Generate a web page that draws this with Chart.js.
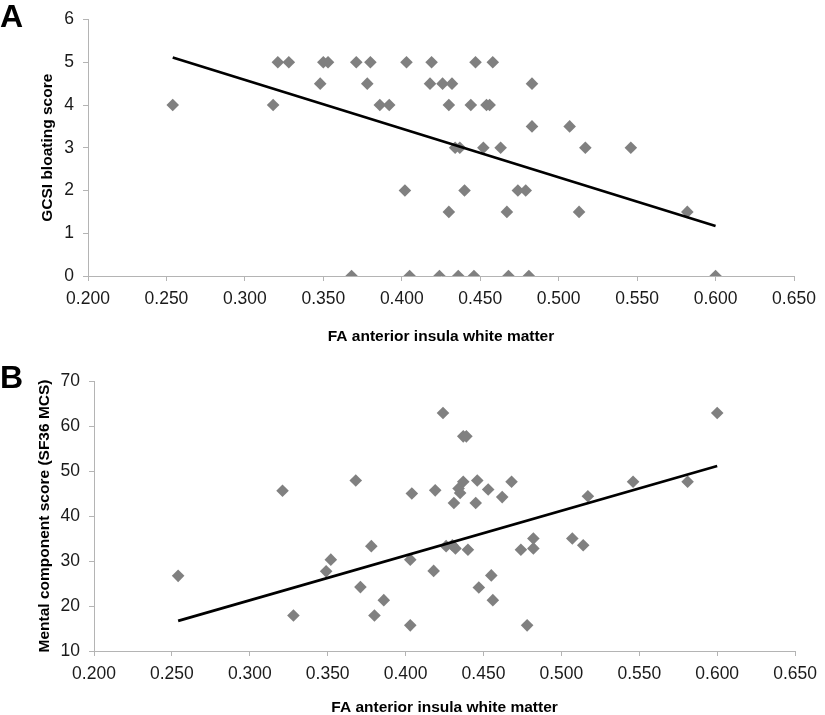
<!DOCTYPE html>
<html>
<head>
<meta charset="utf-8">
<script src="https://cdn.jsdelivr.net/npm/chart.js@4.4.0/dist/chart.umd.min.js"></script>
<style>
  html, body { margin: 0; padding: 0; background: #fff; }
  #wrapA { position: absolute; left: 0; top: 0; width: 825px; height: 357px; }
  #wrapB { position: absolute; left: 0; top: 357px; width: 825px; height: 358px; }
</style>
</head>
<body>
<div id="wrapA"><canvas id="chartA" width="825" height="357"></canvas></div>
<div id="wrapB"><canvas id="chartB" width="825" height="358"></canvas></div>
<script>
// panel A: FA vs GCSI bloating score
const faA = [0.254, 0.318, 0.321, 0.328, 0.348, 0.350, 0.353, 0.368, 0.371, 0.378, 0.380, 0.386,
    0.392, 0.403, 0.402, 0.405, 0.419, 0.418, 0.426, 0.432, 0.430, 0.424, 0.436, 0.446,
    0.447, 0.458, 0.444, 0.454, 0.456, 0.483, 0.483, 0.507, 0.434, 0.437, 0.452, 0.463,
    0.517, 0.546, 0.440, 0.474, 0.479, 0.430, 0.467, 0.513, 0.582, 0.468, 0.481, 0.600];
const bloatingA = [4, 4, 5, 5, 4.5, 5, 5, 0, 5, 4.5, 5, 4,
    4, 5, 2, 0, 5, 4.5, 4.5, 4.5, 4, 0, 0, 0,
    5, 5, 4, 4, 4, 4.5, 3.5, 3.5, 3, 3, 3, 3,
    3, 3, 2, 2, 2, 1.5, 1.5, 1.5, 1.5, 0, 0, 0];
const trendAx = [0.254, 0.600];
const trendAy = [5.11, 1.17];

// panel B: FA vs SF36 mental component score
const faB = [0.254, 0.321, 0.328, 0.349, 0.352, 0.368, 0.371, 0.378, 0.380, 0.386, 0.403, 0.404,
    0.403, 0.424, 0.437, 0.439, 0.419, 0.418, 0.426, 0.430, 0.432, 0.431, 0.435, 0.434,
    0.437, 0.446, 0.440, 0.445, 0.453, 0.447, 0.455, 0.456, 0.462, 0.468, 0.474, 0.482,
    0.482, 0.478, 0.507, 0.514, 0.517, 0.546, 0.581, 0.600];
const mcsB = [26.7, 45.6, 17.9, 27.7, 30.3, 47.9, 24.2, 33.3, 17.9, 21.3, 15.7, 45.0,
    30.3, 62.9, 57.7, 57.7, 45.7, 27.8, 33.3, 33.5, 32.8, 42.9, 45.1, 46.1,
    47.6, 47.9, 32.5, 42.9, 45.9, 24.1, 26.8, 21.3, 44.2, 47.6, 32.5, 35.0,
    32.8, 15.7, 35.0, 33.5, 44.4, 47.6, 47.6, 62.9];
const trendBx = [0.254, 0.600];
const trendBy = [16.7, 51.1];

const xTickMin = 0.2, xTickMax = 0.65, xTickStep = 0.05;

const axisGray = '#b4b4b4';
const tickFont = { family: 'Liberation Sans, Arial, sans-serif', size: 17.5 };
const titleFont = { family: 'Liberation Sans, Arial, sans-serif', size: 15.5, weight: 'bold', lineHeight: 1 };

function zip(xs, ys) {
    return xs.map(function (x, i) { return { x: x, y: ys[i] }; });
}

// big panel letter in the top-left corner
function panelLetter(letter, baseline) {
    return {
        id: 'panelLetter' + letter,
        afterDraw: function (chart) {
            const ctx = chart.ctx;
            ctx.save();
            ctx.fillStyle = '#000';
            ctx.font = 'bold 32px Liberation Sans, Arial, sans-serif';
            ctx.textBaseline = 'alphabetic';
            ctx.fillText(letter, 0, baseline);
            ctx.restore();
        }
    };
}

function buildChart(id, opts) {
    const ctx = document.getElementById(id).getContext('2d');
    return new Chart(ctx, {
        type: 'scatter',
        data: {
            datasets: [{
                type: 'line',
                data: zip(opts.trendX, opts.trendY),
                borderColor: '#000',
                borderWidth: 2.7,
                pointRadius: 0,
                fill: false,
                tension: 0
            }, {
                data: zip(opts.xs, opts.ys),
                backgroundColor: '#808080',
                borderColor: '#808080',
                borderWidth: 0,
                pointStyle: 'rectRot',
                pointRadius: 6.3,
                pointHoverRadius: 6.3
            }]
        },
        options: {
            responsive: false,
            animation: false,
            layout: { padding: opts.padding },
            plugins: { legend: { display: false }, tooltip: { enabled: false } },
            scales: {
                x: {
                    type: 'linear',
                    min: xTickMin,
                    max: xTickMax,
                    afterFit: function (s) { s.height = opts.xHeight; },
                    border: { display: true, color: axisGray, width: 1 },
                    grid: { display: true, drawOnChartArea: false, drawTicks: true, tickLength: 5, color: axisGray },
                    ticks: {
                        stepSize: xTickStep,
                        padding: 8,
                        color: '#1a1a1a',
                        font: tickFont,
                        maxRotation: 0,
                        callback: function (v) { return v.toFixed(3); }
                    },
                    title: {
                        display: true,
                        text: 'FA anterior insula white matter',
                        color: '#000',
                        font: titleFont,
                        padding: { top: 0, bottom: opts.xTitlePad }
                    }
                },
                y: {
                    min: opts.yMin,
                    max: opts.yMax,
                    afterFit: function (s) { s.width = opts.yWidth; },
                    border: { display: true, color: axisGray, width: 1 },
                    grid: { display: true, drawOnChartArea: false, drawTicks: true, tickLength: 5, color: axisGray },
                    ticks: {
                        stepSize: opts.yStep,
                        padding: 9,
                        color: '#1a1a1a',
                        font: tickFont
                    },
                    title: {
                        display: true,
                        text: opts.yTitle,
                        color: '#000',
                        font: titleFont,
                        padding: { top: opts.yTitlePad, bottom: 0 }
                    }
                }
            }
        },
        plugins: [panelLetter(opts.letter, opts.letterBaseline)]
    });
}

buildChart('chartA', {
    xs: faA, ys: bloatingA, trendX: trendAx, trendY: trendAy,
    yMin: 0, yMax: 6, yStep: 1,
    yTitle: 'GCSI bloating score',
    padding: { left: 0, right: 31, top: 11, bottom: 0 },
    xHeight: 81, yWidth: 88,
    xTitlePad: 13, yTitlePad: 40,
    letter: 'A', letterBaseline: 27
});

buildChart('chartB', {
    xs: faB, ys: mcsB, trendX: trendBx, trendY: trendBy,
    yMin: 10, yMax: 70, yStep: 10,
    yTitle: 'Mental component score (SF36 MCS)',
    padding: { left: 0, right: 24, top: 24, bottom: 0 },
    xHeight: 64, yWidth: 94,
    xTitlePad: 0, yTitlePad: 37,
    letter: 'B', letterBaseline: 31
});
</script>
</body>
</html>
